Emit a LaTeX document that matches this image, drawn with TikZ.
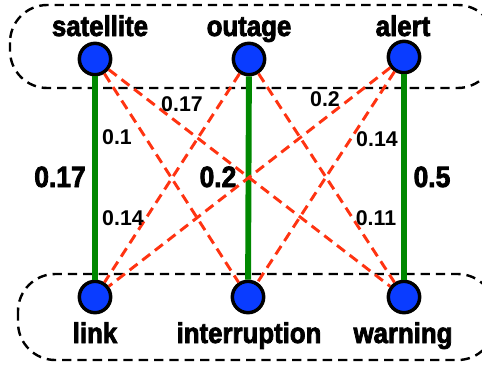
\documentclass[tikz,border=0pt]{standalone}
\usepackage{fontspec}
\setmainfont{Liberation Sans}
\newfontfamily\heavyfont{Liberation Sans}[UprightFont=*-Bold, FakeBold=2.6, FakeStretch=0.9]
\definecolor{edgered}{RGB}{255,51,17}
\definecolor{edgegreen}{RGB}{0,136,0}
\definecolor{termblue}{RGB}{10,60,255}
\tikzset{
  term/.style={circle, draw=black, line width=2.6pt, fill=termblue,
    minimum size=23.5pt, inner sep=0pt},
  word/.style={font=\fontsize{21.5}{23}\heavyfont, anchor=base},
  weight/.style={font=\fontsize{22}{24}\heavyfont, anchor=base},
  cross/.style={font=\fontsize{16}{18}\selectfont\bfseries, anchor=base},
  strong/.style={edgegreen, line width=4.4pt},
  weak/.style={edgered, line width=2.2pt, dash pattern=on 7.5pt off 4.5pt},
  group/.style={black, line width=1.8pt, dash pattern=on 7pt off 4.5pt,
    rounded corners=28pt}
}
\begin{document}
\begin{tikzpicture}[x=0.75pt,y=-0.75pt]
        \useasboundingbox (0,0) rectangle (482,365);

        % Dashed groups
        \draw[group] (10,5) rectangle (495,88);
        \draw[group] (18,274) rectangle (495,360);

        % Top terms
        \node[term] (sat) at (95,59) {};
        \node[term] (out) at (249,59) {};
        \node[term] (alr) at (404,57) {};
        \node[word] (satw) at (100,36) {satellite};
        \node[word] (outw) at (249,36) {outage};
        \node[word] (alrw) at (403,36) {alert};

        % Bottom terms
        \node[term] (lnk) at (95,297) {};
        \node[term] (int) at (248,297) {};
        \node[term] (wrn) at (404,297) {};
        \node[word] (lnkw) at (95,343) {link};
        \node[word] (intw) at (249,343) {interruption};
        \node[word] (wrnw) at (403,343) {warning};

        % Strong links
        \draw[strong] (sat) -- (lnk);
        \draw[strong] (out) -- (int);
        \draw[strong] (alr) -- (wrn);
        \node[weight] (w1) at (60,187) {0.17};
        \node[weight] (w2) at (218,187) {0.2};
        \node[weight] (w3) at (432,187) {0.5};

        % Cross links
        \draw[weak] (sat) -- (int);
        \draw[weak] (sat) -- (wrn);
        \draw[weak] (out) -- (lnk);
        \draw[weak] (out) -- (wrn);
        \draw[weak] (alr) -- (lnk);
        \draw[weak] (alr) -- (int);
        \node[cross] (c1) at (117,144) {0.1};
        \node[cross] (c2) at (123,225) {0.14};
        \node[cross] (c3) at (182,111) {0.17};
        \node[cross] (c4) at (325,106) {0.2};
        \node[cross] (c5) at (377,146) {0.14};
        \node[cross] (c6) at (376,225) {0.11};
    \end{tikzpicture}
\end{document}
